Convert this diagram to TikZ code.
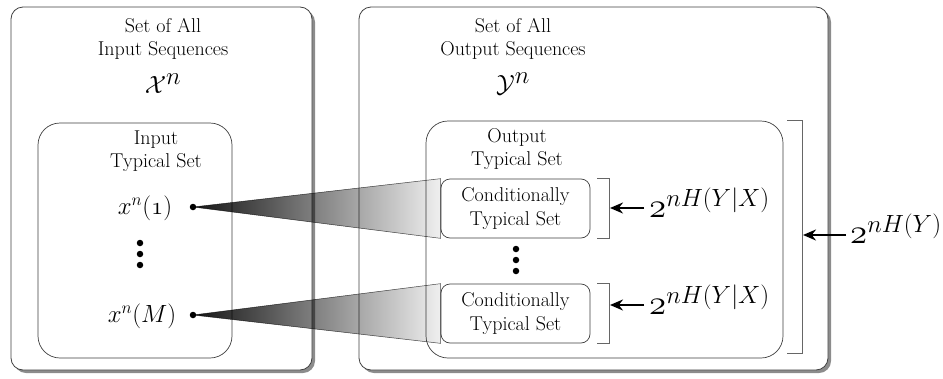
\documentclass[tikz,border=0pt]{standalone}
\usetikzlibrary{arrows.meta,shadows,positioning}
\tikzset{
  outerset/.style={draw=black!75, line width=0.8pt, fill=white, rounded corners=12pt,
    drop shadow={shadow xshift=3pt, shadow yshift=-3pt, fill=black!90}},
  typset/.style={draw=black!75, line width=0.7pt, rounded corners=22pt},
  condset/.style={draw=black!75, line width=0.7pt, fill=white, rounded corners=9pt,
    align=center, inner sep=0pt, font=\fontsize{20}{24}\selectfont},
  lbl/.style={align=center, font=\fontsize{20}{23.5}\selectfont},
  seq/.style={font=\fontsize{27}{30}\selectfont},
  bigset/.style={font=\fontsize{46}{50}\selectfont},
  pt/.style={circle, fill, inner sep=0pt, minimum size=6.5pt},
  wedge/.style={draw=black!70, line width=0.5pt, left color=black!92, right color=black!6,
    blend mode=multiply},
  brk/.style={draw=black!60, line width=0.8pt},
  sizearrow/.style={-{Stealth[length=13pt,width=11pt]}, line width=2pt},
  sizelbl/.style={anchor=base west, inner sep=0pt, font=\fontsize{29}{32}\selectfont}
}
\newcommand{\two}{\scalebox{1.4}{$\oldstylenums{2}$}}
\newcommand{\expo}[1]{\raisebox{11pt}{\fontsize{24}{26}\selectfont$#1$}}
\begin{document}
\begin{tikzpicture}[x=1pt, y=-1pt]
\useasboundingbox (0,0) rectangle (943,378);

% the two sets of all sequences
\node[outerset, minimum width=301pt, minimum height=363pt] (allin) at (161.5,188.5) {};
\node[outerset, minimum width=469pt, minimum height=363pt] (allout) at (593.5,188.5) {};
\node[lbl] (allinlbl) at (163,39) {Set of All\\Input Sequences};
\node[lbl] (alloutlbl) at (513,39) {Set of All\\Output Sequences};
\node[bigset] (calx) at (163,84) {$\mathcal{X}^n$};
\node[bigset] (caly) at (513,84) {$\mathcal{Y}^n$};

% typical sets
\node[typset, minimum width=194pt, minimum height=235pt] (typin) at (135,240.5) {};
\node[typset, minimum width=357pt, minimum height=237pt] (typout) at (604.5,239.5) {};
\node[lbl] (typinlbl) at (156,151) {Input\\Typical Set};
\node[lbl] (typoutlbl) at (517,149) {Output\\Typical Set};

% conditionally typical sets
\node[condset, minimum width=149pt, minimum height=59pt] (cond1) at (515.5,208.5) {Conditionally\\Typical Set};
\node[condset, minimum width=149pt, minimum height=59pt] (cond2) at (515.5,313.5) {Conditionally\\Typical Set};

% input sequences
\node[seq] (xone) at (145,208) {$x^n(\oldstylenums{1})$};
\node[seq] (xm) at (142,316) {$x^n(M)$};
\node[pt] (p1) at (193,207) {};
\node[pt] (p2) at (193,315) {};
\foreach \i/\y in {1/243,2/254,3/265}
  \node[pt] (vd\i) at (140,\y) {};
\foreach \i/\y in {1/249,2/260,3/271}
  \node[pt] (md\i) at (516,\y) {};

% fans
\shadedraw[wedge] (p1.center) -- (cond1.north west) -- (cond1.south west) -- cycle;
\shadedraw[wedge] (p2.center) -- (cond2.north west) -- (cond2.south west) -- cycle;

% brackets
\draw[brk] ([xshift=7pt]cond1.north east) -- ++(12,0) |- ([xshift=7pt]cond1.south east);
\draw[brk] ([xshift=7pt]cond2.north east) -- ++(12,0) |- ([xshift=7pt]cond2.south east);
\draw[brk] ([xshift=4pt]typout.north east) -- ++(15,0) |- ([xshift=4pt,yshift=5pt]typout.south east);

\coordinate (b1) at (610,208);
\coordinate (b2) at (610,305);
\coordinate (b3) at (803,235);
\coordinate (t1) at (644,208);
\coordinate (t2) at (644,305);
\coordinate (t3) at (846,235);

% sizes
\node[sizelbl] (h1) at (649,217) {\two\expo{nH(Y|X)}};
\node[sizelbl] (h2) at (649,314) {\two\expo{nH(Y|X)}};
\node[sizelbl] (h3) at (850,243) {\two\expo{nH(Y)}};
\draw[sizearrow] (t1) -- (b1);
\draw[sizearrow] (t2) -- (b2);
\draw[sizearrow] (t3) -- (b3);

\end{tikzpicture}
\end{document}
